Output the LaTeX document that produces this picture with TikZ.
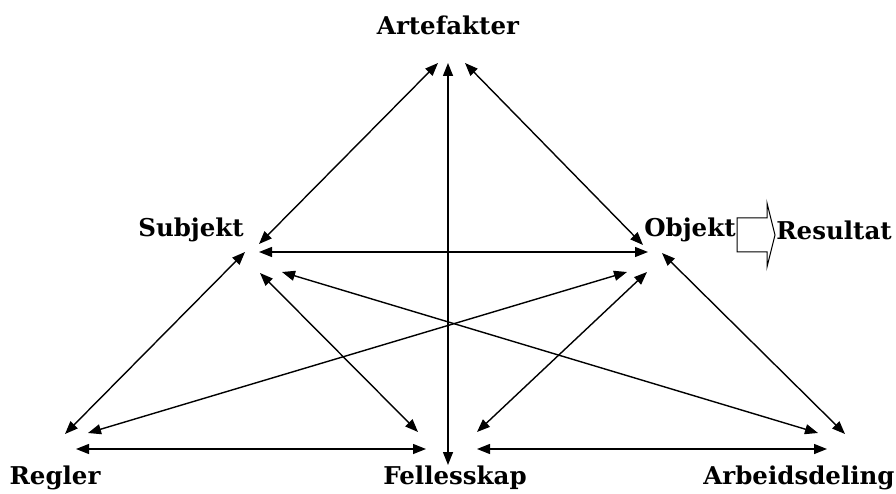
\documentclass[tikz,border=0pt]{standalone}
\usepackage{fontspec}
\setmainfont{DejaVu Serif}
\usetikzlibrary{arrows.meta}
\begin{document}
\begin{tikzpicture}[x=1pt,y=-1pt,
  lbl/.style={font=\bfseries\fontsize{24.5}{28}\selectfont, inner sep=0pt},
  link/.style={line width=1.4pt, {Triangle[length=13pt,width=10pt]}-{Triangle[length=13pt,width=10pt]}},
  blockarrow/.style={draw, line width=1pt, fill=white}]
\useasboundingbox (0,0) rectangle (896,494);

% labels
\node[lbl] (art) at (448,25) {Artefakter};
\node[lbl] (sub) at (191,230) {Subjekt};
\node[lbl] (obj) at (690,230) {Objekt};
\node[lbl] (res) at (834,230) {Resultat};
\node[lbl] (reg) at (55,478) {Regler};
\node[lbl] (fel) at (455,478) {Fellesskap};
\node[lbl] (arb) at (799,478) {Arbeidsdeling};

% arrow end points
\coordinate (artL) at (438,63);
\coordinate (artM) at (448,63);
\coordinate (artR) at (465,63);
\coordinate (subA) at (259,244);
\coordinate (subO) at (259,252);
\coordinate (subR) at (245,252);
\coordinate (subF) at (260,273);
\coordinate (subW) at (282,272);
\coordinate (objA) at (643,245);
\coordinate (objS) at (648,252);
\coordinate (objR) at (627,272);
\coordinate (objF) at (647,272);
\coordinate (objW) at (662,253);
\coordinate (regS) at (65,434);
\coordinate (regO) at (88,433);
\coordinate (regF) at (76,449);
\coordinate (felS) at (418,432);
\coordinate (felA) at (448,465);
\coordinate (felO) at (477,432);
\coordinate (felR) at (426,449);
\coordinate (felW) at (477,449);
\coordinate (arbS) at (818,433);
\coordinate (arbO) at (845,434);
\coordinate (arbF) at (827,449);

% connectors
\draw[link] (artL) -- (subA);
\draw[link] (artM) -- (felA);
\draw[link] (artR) -- (objA);
\draw[link] (subO) -- (objS);
\draw[link] (subR) -- (regS);
\draw[link] (subF) -- (felS);
\draw[link] (subW) -- (arbS);
\draw[link] (objR) -- (regO);
\draw[link] (objF) -- (felO);
\draw[link] (objW) -- (arbO);
\draw[link] (regF) -- (felR);
\draw[link] (felW) -- (arbF);

% block arrow from Objekt to Resultat
\draw[blockarrow] (737,218) -- (767,218) -- (767,203) -- (775,235)
  -- (767,267) -- (767,252) -- (737,252) -- cycle;
\end{tikzpicture}
\end{document}
